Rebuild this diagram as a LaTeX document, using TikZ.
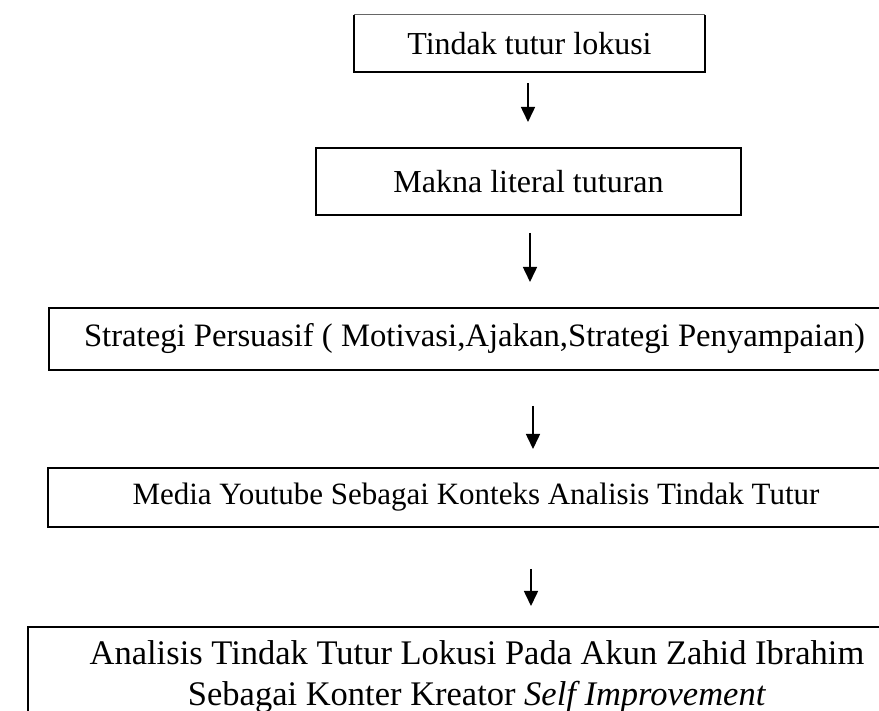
\documentclass[tikz,border=0pt]{standalone}
\usepackage{fontspec}
\setmainfont{Liberation Serif}
\usetikzlibrary{arrows.meta,calc}
\begin{document}
\begin{tikzpicture}[x=1pt,y=1pt,
  boxtext/.style={inner sep=0pt, align=center, font=\fontsize{32}{41}\selectfont},
  boxedge/.style={line width=2pt, black},
  arr/.style={line width=1.6pt, -{Triangle[length=15pt,width=14pt]}}]
\useasboundingbox (0,0) rectangle (879,711);
\clip (0,0) rectangle (879,711);
% box 1
\node[boxtext, minimum width=351pt, minimum height=57pt] (b1) at (529.5,667.5) {Tindak tutur lokusi};
\draw[boxedge] (b1.north west) -- (b1.south west) -- (b1.south east) -- (b1.north east);
\draw[line width=0.8pt, black!60] (b1.north west) -- (b1.north east);
% box 2
\node[boxtext, draw, boxedge, minimum width=425pt, minimum height=67pt] (b2) at (528.5,529.5) {Makna literal tuturan};
% box 3
\node[boxtext, draw, boxedge, minimum width=851pt, minimum height=62pt, font=\fontsize{32.7}{41}\selectfont] (b3) at (474.5,372) {Strategi Persuasif ( Motivasi,Ajakan,Strategi Penyampaian)};
% box 4
\node[boxtext, draw, boxedge, minimum width=856pt, minimum height=59pt, font=\fontsize{31}{40}\selectfont] (b4) at (476,213.5) {Media Youtube Sebagai Konteks Analisis Tindak Tutur};
% box 5
\node[boxtext, draw, boxedge, minimum width=898pt, minimum height=100pt, font=\fontsize{34.5}{41}\selectfont] (b5) at (477,34) {Analisis Tindak Tutur Lokusi Pada Akun Zahid Ibrahim\\Sebagai Konter Kreator \textit{Self Improvement}};
% arrows
\draw[arr] ($(b1.south)+(-1.5,-11)$) -- ($(b2.north -| b1.south)+(-1.5,25)$);
\draw[arr] ($(b2.south)+(1.5,-17)$) -- ($(b3.north -| b2.south)+(1.5,25)$);
\draw[arr] ($(b3.south -| b2.south)+(4.5,-35)$) -- ($(b4.north -| b2.south)+(4.5,18)$);
\draw[arr] ($(b4.south -| b2.south)+(2.5,-41)$) -- ($(b5.north -| b2.south)+(2.5,20)$);
\end{tikzpicture}
\end{document}
